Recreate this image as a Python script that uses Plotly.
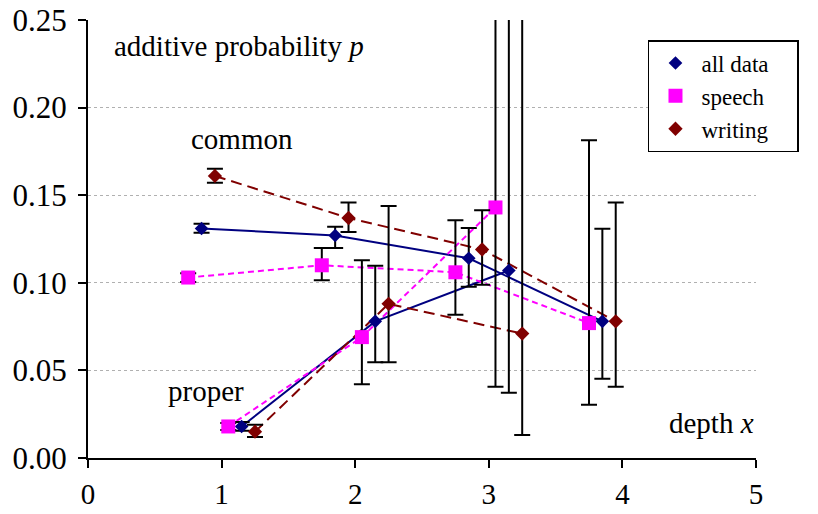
import plotly.graph_objects as go

# ---- data ----
# depth positions are offset per series so that the error bars do not overlap
all_common_x = [0.85, 1.85, 2.85, 3.85]
all_common_y = [0.131, 0.127, 0.114, 0.078]
all_common_hi = [0.1337, 0.1320, 0.1313, 0.1309]
all_common_lo = [0.1285, 0.1199, 0.0978, 0.0453]

all_proper_x = [1.15, 2.15, 3.15]
all_proper_y = [0.018, 0.078, 0.107]
all_proper_hi = [0.0205, 0.1098, 0.254]
all_proper_lo = [0.0155, 0.0546, 0.0373]

speech_common_x = [0.75, 1.75, 2.75, 3.75]
speech_common_y = [0.103, 0.110, 0.106, 0.077]
speech_common_hi = [0.1055, 0.1199, 0.1357, 0.1813]
speech_common_lo = [0.1005, 0.1014, 0.0818, 0.0304]

speech_proper_x = [1.05, 2.05, 3.05]
speech_proper_y = [0.018, 0.069, 0.143]
speech_proper_hi = [0.020, 0.1128, 0.254]
speech_proper_lo = [0.016, 0.0421, 0.0407]

writing_common_x = [0.95, 1.95, 2.95, 3.95]
writing_common_y = [0.161, 0.137, 0.119, 0.078]
writing_common_hi = [0.1651, 0.1459, 0.1414, 0.1459]
writing_common_lo = [0.1571, 0.1290, 0.0989, 0.0407]

writing_proper_x = [1.25, 2.25, 3.25]
writing_proper_y = [0.015, 0.088, 0.071]
writing_proper_hi = [0.0190, 0.1438, 0.254]
writing_proper_lo = [0.0120, 0.0546, 0.0131]

series_names = ["all data", "speech", "writing"]
x_ticks = [0, 1, 2, 3, 4, 5]
y_ticks = [0.00, 0.05, 0.10, 0.15, 0.20, 0.25]

FONT = "Liberation Serif"
PAD = "\u00a0" * 4  # invisible right padding inside the legend box

groups = [
    (series_names[0], "#000080", "solid", "diamond", 10.5,
     (all_common_x, all_common_y, all_common_hi, all_common_lo),
     (all_proper_x, all_proper_y, all_proper_hi, all_proper_lo)),
    (series_names[1], "#FF00FF", "6px,4px", "square", 14,
     (speech_common_x, speech_common_y, speech_common_hi, speech_common_lo),
     (speech_proper_x, speech_proper_y, speech_proper_hi, speech_proper_lo)),
    (series_names[2], "#800000", "11px,6px", "diamond", 11,
     (writing_common_x, writing_common_y, writing_common_hi, writing_common_lo),
     (writing_proper_x, writing_proper_y, writing_proper_hi, writing_proper_lo)),
]

fig = go.Figure()

# connecting lines (common and proper separately)
for name, color, dash, sym, size, common, proper in groups:
    for (xs, ys, hi, lo) in (common, proper):
        fig.add_trace(go.Scatter(
            x=xs, y=ys, mode="lines", showlegend=False, hoverinfo="skip",
            line=dict(color=color, width=2, dash=dash), cliponaxis=False))

# markers with asymmetric error bars
for name, color, dash, sym, size, common, proper in groups:
    xs = common[0] + proper[0]
    ys = common[1] + proper[1]
    hi = common[2] + proper[2]
    lo = common[3] + proper[3]
    plus = [h - y for h, y in zip(hi, ys)]
    minus = [y - l for y, l in zip(ys, lo)]
    fig.add_trace(go.Scatter(
        x=xs, y=ys, mode="markers", name=name + PAD, cliponaxis=False,
        marker=dict(symbol=sym, size=size, color=color, line=dict(width=0)),
        error_y=dict(type="data", symmetric=False, array=plus, arrayminus=minus,
                     color="black", thickness=2, width=8)))

annot_font = dict(family=FONT, size=29, color="black")
fig.add_annotation(x=0.18, y=0.2354, xref="x", yref="y", text="additive probability <i>p</i>",
                   showarrow=False, xanchor="left", yanchor="middle", font=annot_font)
fig.add_annotation(x=0.755, y=0.182, xref="x", yref="y", text="common",
                   showarrow=False, xanchor="left", yanchor="middle", font=annot_font)
fig.add_annotation(x=0.582, y=0.0382, xref="x", yref="y", text="proper",
                   showarrow=False, xanchor="left", yanchor="middle", font=annot_font)
fig.add_annotation(x=5.0, y=0.020, xref="x", yref="y", text="depth <i>x</i>",
                   showarrow=False, xanchor="right", yanchor="middle", font=annot_font)

fig.update_layout(
    width=818, height=514,
    margin=dict(l=88, r=62, t=20, b=56, pad=0, autoexpand=False),
    paper_bgcolor="white", plot_bgcolor="white",
    font=dict(family=FONT, size=29, color="black"),
    showlegend=True,
    legend=dict(x=0.8383, y=0.9543, xref="paper", yref="paper", xanchor="left", yanchor="top",
                bgcolor="white", bordercolor="black", borderwidth=1.5,
                font=dict(family=FONT, size=23, color="black"),
                itemwidth=42, tracegroupgap=0),
    xaxis=dict(range=[0, 5], tickvals=x_ticks, ticktext=[str(v) for v in x_ticks],
               showgrid=False, zeroline=False, showline=True, linecolor="black", linewidth=2,
               ticks="outside", ticklen=8, tickwidth=2, tickcolor="black", automargin=False,
               tickfont=dict(family=FONT, size=29, color="black"), ticklabelstandoff=1),
    yaxis=dict(range=[0, 0.25], tickvals=y_ticks, ticktext=[f"{v:.2f}" for v in y_ticks],
               showgrid=True, gridcolor="#B0B0B0", griddash="dot", gridwidth=1,
               zeroline=False, showline=True, linecolor="black", linewidth=2, automargin=False,
               ticks="outside", ticklen=8, tickwidth=2, tickcolor="black",
               tickfont=dict(family=FONT, size=31, color="black"), ticklabelstandoff=5),
)

fig.write_html("out.html")
